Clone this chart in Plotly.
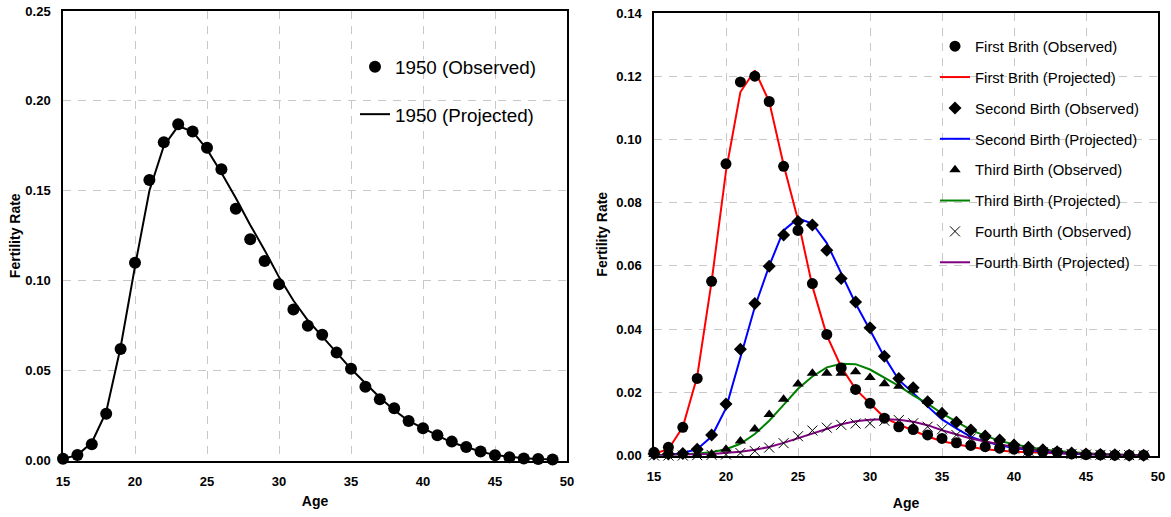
import plotly.graph_objects as go

ages = list(range(15, 50))

# Left panel: 1950
obs_1950 = [0.001, 0.003, 0.009, 0.026, 0.062, 0.110, 0.156, 0.177, 0.187, 0.183,
            0.174, 0.162, 0.140, 0.123, 0.111, 0.098, 0.084, 0.075, 0.070, 0.060,
            0.051, 0.041, 0.034, 0.029, 0.022, 0.018, 0.014, 0.0105, 0.0075, 0.005,
            0.0029, 0.0018, 0.0011, 0.0008, 0.0006]
proj_1950 = [0.001, 0.003, 0.010, 0.027, 0.063, 0.108, 0.150, 0.175, 0.186, 0.183,
             0.173, 0.160, 0.146, 0.131, 0.117, 0.102, 0.089, 0.078, 0.069, 0.060,
             0.051, 0.043, 0.035, 0.028, 0.022, 0.018, 0.014, 0.010, 0.0075, 0.005,
             0.003, 0.002, 0.0013, 0.0008, 0.0006]

# Right panel: by birth order
first_obs = [0.001, 0.0026, 0.0089, 0.0244, 0.0551, 0.0923, 0.1182, 0.1200, 0.1120, 0.0915,
             0.0712, 0.0544, 0.0383, 0.0277, 0.0209, 0.0165, 0.0118, 0.0091, 0.0082, 0.0065,
             0.0054, 0.0040, 0.0032, 0.0028, 0.0023, 0.0020, 0.0015, 0.0012, 0.0010, 0.0005,
             0.0003, 0.0002, 0.0001, 0.0001, 0.0001]
first_proj = [0.0005, 0.002, 0.009, 0.025, 0.055, 0.090, 0.115, 0.1218, 0.112, 0.092,
              0.0745, 0.0535, 0.038, 0.028, 0.021, 0.0165, 0.012, 0.0098, 0.0078, 0.006,
              0.0045, 0.0035, 0.0027, 0.002, 0.0015, 0.0012, 0.001, 0.0008, 0.0006, 0.0004,
              0.0002, 0.0002, 0.0001, 0.0001, 0.0001]
second_obs = [0.0005, 0.0005, 0.0006, 0.002, 0.0065, 0.0163, 0.0336, 0.0481, 0.0599, 0.0698,
              0.0740, 0.0729, 0.0649, 0.0560, 0.0486, 0.0404, 0.0314, 0.0244, 0.0214, 0.0170,
              0.0133, 0.0105, 0.0081, 0.0062, 0.0049, 0.0033, 0.0026, 0.0018, 0.0012, 0.0008,
              0.0005, 0.0003, 0.0002, 0.0001, 0.0001]
second_proj = [0.0, 0.0002, 0.0008, 0.002, 0.006, 0.015, 0.031, 0.047, 0.060, 0.0712,
               0.0750, 0.0734, 0.0672, 0.0576, 0.0481, 0.0397, 0.0312, 0.0239, 0.0197, 0.0156,
               0.0114, 0.0086, 0.0059, 0.0044, 0.0032, 0.0024, 0.0017, 0.0012, 0.0008, 0.0005,
               0.0003, 0.0002, 0.0001, 0.0001, 0.0]
third_obs = [0.0003, 0.0003, 0.0003, 0.0003, 0.0005, 0.002, 0.0046, 0.0084, 0.0130, 0.0178,
             0.0226, 0.0260, 0.0260, 0.0260, 0.0265, 0.0247, 0.0227, 0.0219, 0.0207, 0.0172,
             0.0138, 0.0107, 0.0083, 0.0065, 0.0049, 0.0036, 0.0028, 0.0019, 0.0014, 0.0009,
             0.0006, 0.0004, 0.0003, 0.0002, 0.0001]
third_proj = [0.0, 0.0001, 0.0003, 0.0006, 0.001, 0.002, 0.0037, 0.0068, 0.011, 0.016,
              0.0211, 0.025, 0.0279, 0.0290, 0.0289, 0.0272, 0.0245, 0.0220, 0.0190, 0.0164,
              0.0133, 0.0107, 0.0081, 0.0062, 0.0047, 0.0035, 0.0027, 0.0019, 0.0014, 0.0010,
              0.0007, 0.0005, 0.0003, 0.0002, 0.0001]
fourth_obs = [0.0, 0.0, 0.0, 0.0001, 0.0002, 0.0003, 0.0008, 0.0014, 0.0025, 0.0039,
              0.0061, 0.0079, 0.0088, 0.0097, 0.0101, 0.0102, 0.0110, 0.0112, 0.0102, 0.0091,
              0.0083, 0.0065, 0.0054, 0.0040, 0.0030, 0.0022, 0.0015, 0.0010, 0.0008, 0.0005,
              0.0003, 0.0002, 0.0001, 0.0001, 0.0001]
fourth_proj = [0.0, 0.0002, 0.0003, 0.0004, 0.0005, 0.0008, 0.0012, 0.0018, 0.0027, 0.0040,
               0.0055, 0.0071, 0.0086, 0.0099, 0.0108, 0.0113, 0.0115, 0.0113, 0.0107, 0.0096,
               0.0080, 0.0066, 0.0054, 0.0044, 0.0035, 0.0027, 0.0020, 0.0014, 0.0010, 0.0007,
               0.0004, 0.0003, 0.0002, 0.0001, 0.0001]

x_ticks = [15, 20, 25, 30, 35, 40, 45, 50]

FONT = "Liberation Sans, Arial, sans-serif"
W, H = 1171, 517

fig = go.Figure()

# ---- Left panel ----
fig.add_trace(go.Scatter(x=ages, y=proj_1950, mode="lines", name="1950 (Projected)",
                         line=dict(color="black", width=2), xaxis="x", yaxis="y",
                         legend="legend", legendrank=2, legendgroup="p"))
fig.add_trace(go.Scatter(x=ages, y=obs_1950, mode="markers", name="1950 (Observed)",
                         marker=dict(color="black", size=12, symbol="circle"),
                         cliponaxis=False, xaxis="x", yaxis="y",
                         legend="legend", legendrank=1, legendgroup="o"))

# ---- Right panel ----
series = [
    ("First Brith", first_obs, first_proj, "circle", 11, "#ff0000"),
    ("Second Birth", second_obs, second_proj, "diamond", 10, "#0000ff"),
    ("Third Birth", third_obs, third_proj, "triangle-up", 10, "#008000"),
    ("Fourth Birth", fourth_obs, fourth_proj, "x-thin-open", 10, "#800080"),
]
rank = 1
for name, obs, proj, sym, sz, col in series:
    fig.add_trace(go.Scatter(x=ages, y=proj, mode="lines", name=f"{name} (Projected)",
                             line=dict(color=col, width=2), xaxis="x2", yaxis="y2",
                             legend="legend2", legendrank=rank + 1, legendgroup=f"{name}p"))
    rank += 2
rank = 1
for name, obs, proj, sym, sz, col in series:
    mk = dict(color="black", size=sz, symbol=sym)
    if sym == "x-thin-open":
        mk["line"] = dict(color="black", width=1)
    fig.add_trace(go.Scatter(x=ages, y=obs, mode="markers", name=f"{name} (Observed)",
                             marker=mk, cliponaxis=False, xaxis="x2", yaxis="y2",
                             legend="legend2", legendrank=rank, legendgroup=f"{name}o"))
    rank += 2

axis_common = dict(
    showline=True, linecolor="black", linewidth=1.5, mirror=True,
    showgrid=True, gridcolor="#c8c8c8", gridwidth=1, griddash="8px,7px",
    zeroline=False, ticks="", ticklabelstandoff=8, automargin=False,
    tickfont=dict(family=FONT, size=13, color="black", weight="bold"),
)

def xd(a, b):
    return [a / W, b / W]

def yd(bottom_px, top_px):
    return [(H - bottom_px) / H, (H - top_px) / H]

title_font = dict(family=FONT, size=14, weight="bold")

fig.update_layout(
    width=W, height=H,
    margin=dict(l=0, r=0, t=0, b=0),
    paper_bgcolor="white", plot_bgcolor="white",
    font=dict(family=FONT, color="black"),
    xaxis=dict(domain=xd(63, 567), range=[15, 50], tickvals=x_ticks, anchor="y",
               title=dict(text="Age", font=title_font, standoff=8),
               **axis_common),
    yaxis=dict(domain=yd(460.5, 11), range=[0, 0.25], dtick=0.05, tickformat=".2f", anchor="x",
               title=dict(text="Fertility Rate", font=title_font, standoff=1),
               **axis_common),
    xaxis2=dict(domain=xd(654, 1158), range=[15, 50], tickvals=x_ticks, anchor="y2",
                title=dict(text="Age", font=title_font, standoff=15),
                **axis_common),
    yaxis2=dict(domain=yd(455.5, 13), range=[0, 0.14], dtick=0.02, tickformat=".2f", anchor="x2",
                title=dict(text="Fertility Rate", font=title_font, standoff=5),
                **axis_common),
    legend=dict(x=355 / W, y=(H - 48) / H, xanchor="left", yanchor="top",
                bgcolor="rgba(0,0,0,0)", borderwidth=0, itemwidth=30,
                tracegroupgap=20, font=dict(family=FONT, size=18.8, color="black")),
    legend2=dict(x=935 / W, y=(H - 30) / H, xanchor="left", yanchor="top",
                 bgcolor="rgba(0,0,0,0)", borderwidth=0, itemwidth=30,
                 tracegroupgap=8.5, font=dict(family=FONT, size=14.9, color="black")),
    showlegend=True,
)

fig.write_html("out.html")
